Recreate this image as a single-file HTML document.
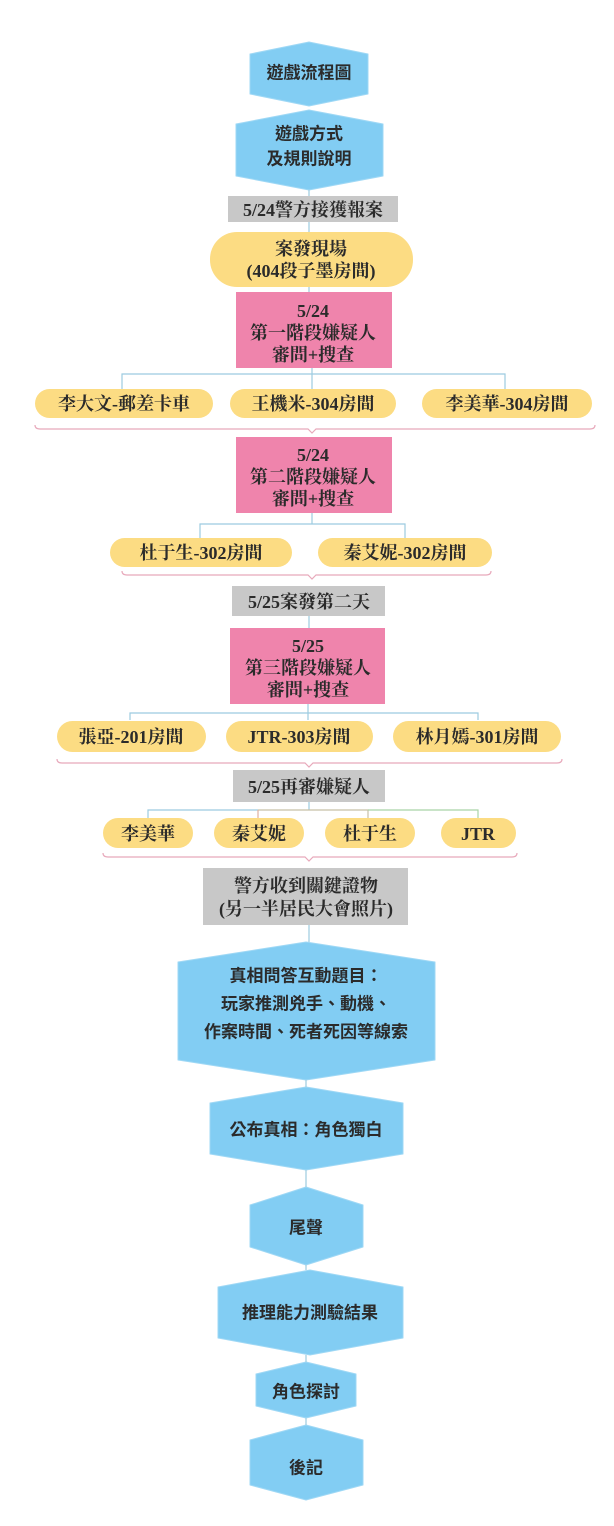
<!DOCTYPE html>
<html><head><meta charset="utf-8"><style>
html,body{margin:0;padding:0;background:#fff;}
svg{display:block}
text{font-family:"Liberation Sans","Noto Sans CJK TC",sans-serif;fill:#2b2b2b;text-anchor:middle;dominant-baseline:central;}
.s{font-family:"Liberation Serif","Noto Serif CJK SC","Noto Sans CJK TC",serif;font-weight:bold;font-size:18px;}
.b{font-size:17px;font-weight:bold;}
</style></head><body>
<svg width="614" height="1526" viewBox="0 0 614 1526" xmlns="http://www.w3.org/2000/svg">
<g fill="#82cdf3" stroke="#9fd8f5" stroke-width="1" stroke-linejoin="round">
<polygon points="250,54 309,42 368,54 368,94 309,106 250,94"/>
<polygon points="236,124 309,110 383,124 383,176 309,190 236,176"/>
<polygon points="178,962 306,942 435,962 435,1060 306,1080 178,1060"/>
<polygon points="210,1103 306,1087 403,1103 403,1154 306,1170 210,1154"/>
<polygon points="250,1205 306,1187 363,1205 363,1247 306,1265 250,1247"/>
<polygon points="218,1287 310,1270 403,1287 403,1338 310,1355 218,1338"/>
<polygon points="256,1374 306,1362 356,1374 356,1406 306,1418 256,1406"/>
<polygon points="250,1440 306,1425 363,1440 363,1485 306,1500 250,1485"/>
</g>
<g stroke="#9ccbe0" stroke-width="1.2" fill="none">
<line x1="309" y1="190" x2="309" y2="197"/>
<line x1="309" y1="222" x2="309" y2="232"/>
<line x1="309" y1="287" x2="309" y2="292"/>
<path d="M122,390 V374 H505 V390 M312,368 V390"/>
<path d="M200,538 V524 H405 V538 M312,513 V524"/>
<line x1="309" y1="616" x2="309" y2="628"/>
<path d="M130,720 V713 H478 V720 M308,704 V720"/>
<path d="M148,818 V810 H258 M309,802 V810"/>
<path d="M258,810 H368 V818 H368" stroke="#c7c0a8"/>
<path d="M368,810 H478 V818" stroke="#a9d4a6"/>
<line x1="258" y1="810" x2="258" y2="818" stroke="#e0b0a0"/>
<line x1="309" y1="925" x2="309" y2="942"/>
<line x1="306" y1="1080" x2="306" y2="1087"/>
<line x1="306" y1="1170" x2="306" y2="1187"/>
<line x1="306" y1="1265" x2="306" y2="1270"/>
<line x1="306" y1="1355" x2="306" y2="1362"/>
<line x1="306" y1="1418" x2="306" y2="1425"/>
</g>
<g stroke="#e8a9bb" stroke-width="1.2" fill="none">
<path d="M35,425 Q35,429 40,429 H308 L312,433 L316,429 H590 Q595,429 595,425"/>
<path d="M122,571 Q122,575 127,575 H308 L312,579 L316,575 H486 Q491,575 491,571"/>
<path d="M57,759 Q57,763 62,763 H305 L309,767 L313,763 H557 Q562,763 562,759"/>
<path d="M103,853 Q103,857 108,857 H305 L309,861 L313,857 H512 Q517,857 517,853"/>
</g>
<g fill="#c8c8c8">
<rect x="228" y="196" width="170" height="26"/>
<rect x="232" y="586" width="153" height="30"/>
<rect x="233" y="770" width="152" height="32"/>
<rect x="203" y="868" width="205" height="57"/>
</g>
<g fill="#ef84ac">
<rect x="236" y="292" width="156" height="76"/>
<rect x="236" y="437" width="156" height="76"/>
<rect x="230" y="628" width="155" height="76"/>
</g>
<g fill="#fcdc83">
<rect x="210" y="232" width="203" height="55" rx="27"/>
<rect x="35" y="389" width="178" height="29" rx="14.5"/>
<rect x="230" y="389" width="166" height="29" rx="14.5"/>
<rect x="422" y="389" width="170" height="29" rx="14.5"/>
<rect x="110" y="538" width="182" height="29" rx="14.5"/>
<rect x="318" y="538" width="174" height="29" rx="14.5"/>
<rect x="57" y="721" width="149" height="31" rx="15.5"/>
<rect x="226" y="721" width="147" height="31" rx="15.5"/>
<rect x="393" y="721" width="168" height="31" rx="15.5"/>
<rect x="103" y="818" width="90" height="30" rx="15"/>
<rect x="214" y="818" width="90" height="30" rx="15"/>
<rect x="325" y="818" width="90" height="30" rx="15"/>
<rect x="441" y="818" width="75" height="30" rx="15"/>
</g>
<text class="b" x="309" y="73">遊戲流程圖</text>
<text class="b" x="309" y="134">遊戲方式</text>
<text class="b" x="309" y="159">及規則說明</text>
<text class="s" x="313" y="210">5/24警方接獲報案</text>
<text class="s" x="311" y="249">案發現場</text>
<text class="s" x="311" y="271">(404段子墨房間)</text>
<text class="s" x="313" y="311">5/24</text>
<text class="s" x="313" y="333">第一階段嫌疑人</text>
<text class="s" x="313" y="355">審問+搜查</text>
<text class="s" x="124" y="404">李大文-郵差卡車</text>
<text class="s" x="313" y="404">王機米-304房間</text>
<text class="s" x="507" y="404">李美華-304房間</text>
<text class="s" x="313" y="455">5/24</text>
<text class="s" x="313" y="477">第二階段嫌疑人</text>
<text class="s" x="313" y="499">審問+搜查</text>
<text class="s" x="201" y="553">杜于生-302房間</text>
<text class="s" x="405" y="553">秦艾妮-302房間</text>
<text class="s" x="309" y="602">5/25案發第二天</text>
<text class="s" x="308" y="646">5/25</text>
<text class="s" x="308" y="668">第三階段嫌疑人</text>
<text class="s" x="308" y="690">審問+搜查</text>
<text class="s" x="131" y="737">張亞-201房間</text>
<text class="s" x="299" y="737">JTR-303房間</text>
<text class="s" x="477" y="737">林月嫣-301房間</text>
<text class="s" x="309" y="787">5/25再審嫌疑人</text>
<text class="s" x="148" y="834">李美華</text>
<text class="s" x="259" y="834">秦艾妮</text>
<text class="s" x="370" y="834">杜于生</text>
<text class="s" x="478" y="834">JTR</text>
<text class="s" x="306" y="886">警方收到關鍵證物</text>
<text class="s" x="306" y="909">(另一半居民大會照片)</text>
<text class="b" x="306" y="976">真相問答互動題目：</text>
<text class="b" x="306" y="1004">玩家推測兇手、動機、</text>
<text class="b" x="306" y="1032">作案時間、死者死因等線索</text>
<text class="b" x="306" y="1130">公布真相：角色獨白</text>
<text class="b" x="306" y="1228">尾聲</text>
<text class="b" x="310" y="1313">推理能力測驗結果</text>
<text class="b" x="306" y="1392">角色探討</text>
<text class="b" x="306" y="1468">後記</text>
</svg>
</body></html>
